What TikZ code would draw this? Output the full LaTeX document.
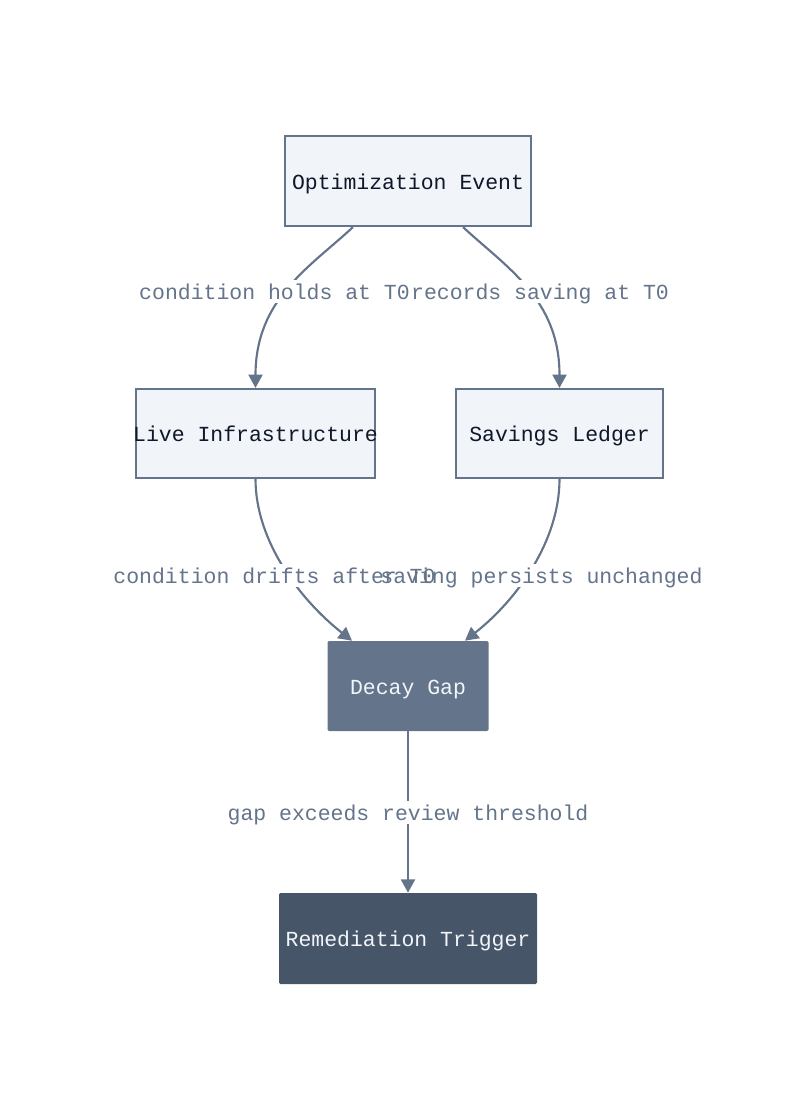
\documentclass[tikz,border=0pt]{standalone}
\usepackage{fontspec}
\setmonofont{Liberation Mono}
\usetikzlibrary{arrows.meta,calc,backgrounds}

\definecolor{slateline}{HTML}{64748B}
\definecolor{slatefill}{HTML}{F1F5F9}
\definecolor{slatedark}{HTML}{475569}
\definecolor{inkdark}{HTML}{0F172A}
\newcommand{\monof}{\ttfamily\fontsize{16.1pt}{19pt}\selectfont}

\begin{document}
\begin{tikzpicture}[x=0.75pt, y=-0.75pt,
    stage/.style={draw=slateline, line width=1.6pt, fill=slatefill, text=inkdark,
                  font=\monof, inner sep=0pt, text height=14pt, text depth=1.5pt},
    gapbox/.style={fill=slateline, text=slatefill, rounded corners=1pt,
                   font=\monof, inner sep=0pt, text height=14pt, text depth=1.5pt},
    flow/.style={draw=slateline, line width=1.6pt, -{Triangle[length=10pt,width=10.5pt]}},
    edgelbl/.style={font=\monof, text=slateline, inner sep=1pt, text height=14pt, text depth=1.5pt},
]
\useasboundingbox (0,0) rectangle (800,1120);

% stages
\node[stage, minimum width=184.5pt, minimum height=67.5pt] (opt) at (408,181) {Optimization Event};
\node[stage, minimum width=179.25pt, minimum height=66.75pt] (live) at (255.5,433.5) {\makebox[0pt]{Live Infrastructure}};
\node[stage, minimum width=155.25pt, minimum height=66.75pt] (ledger) at (559.5,433.5) {Savings Ledger};
\node[gapbox, minimum width=120.75pt, minimum height=67.5pt] (decay) at (408,686) {Decay Gap};
\node[gapbox, fill=slatedark, minimum width=193.5pt, minimum height=68.25pt] (trigger) at (408,938.5) {Remediation Trigger};

% edge labels
\node[edgelbl] (holds) at (274.5,291.5) {condition holds at T0};
\node[edgelbl] (records) at (540,291.5) {records saving at T0};
\node[edgelbl] (drifts) at (274.5,575.5) {condition drifts after T0};
\node[edgelbl] (persists) at (541.5,575.5) {saving persists unchanged};
\node[edgelbl] (exceeds) at (408,812.5) {gap exceeds review threshold};

\begin{scope}[on background layer]
\draw[flow] ($(opt.south)+(-55,0)$) .. controls +(-43,40) and +(0,-89) .. (live.north);
\draw[flow] ($(opt.south)+(55,0)$) .. controls +(43,40) and +(0,-89) .. (ledger.north);
\draw[flow] (live.south) .. controls +(0,62) and +(-52,-41) .. ($(decay.north)+(-56,0)$);
\draw[flow] (ledger.south) .. controls +(0,62) and +(52,-41) .. ($(decay.north)+(57,0)$);
\draw[flow] (decay.south) -- (trigger.north);
\foreach \l in {holds,records,drifts,persists,exceeds}
  \fill[white] (\l.south west) rectangle (\l.north east);
\end{scope}
\end{tikzpicture}
\end{document}
